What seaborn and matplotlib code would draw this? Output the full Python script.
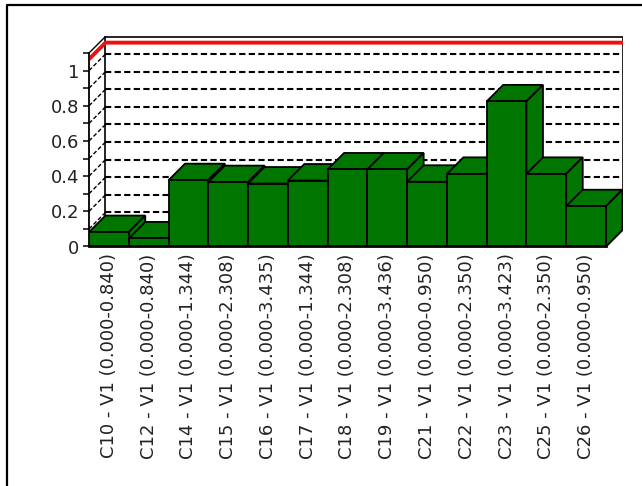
import matplotlib
matplotlib.use("Agg")
import matplotlib.pyplot as plt
from matplotlib.patches import Polygon, Rectangle
from matplotlib.lines import Line2D
import seaborn as sns

# ---- data ----
categories = [
    "C10 - V1 (0.000-0.840)",
    "C12 - V1 (0.000-0.840)",
    "C14 - V1 (0.000-1.344)",
    "C15 - V1 (0.000-2.308)",
    "C16 - V1 (0.000-3.435)",
    "C17 - V1 (0.000-1.344)",
    "C18 - V1 (0.000-2.308)",
    "C19 - V1 (0.000-3.436)",
    "C21 - V1 (0.000-0.950)",
    "C22 - V1 (0.000-2.350)",
    "C23 - V1 (0.000-3.423)",
    "C25 - V1 (0.000-2.350)",
    "C26 - V1 (0.000-0.950)",
]
values = [0.082, 0.046, 0.377, 0.366, 0.358, 0.375, 0.438,
          0.438, 0.368, 0.413, 0.825, 0.413, 0.229]
ytick_values = [0, 0.2, 0.4, 0.6, 0.8, 1.0]
ytick_labels = ["0", "0.2", "0.4", "0.6", "0.8", "1"]
grid_values = [0.1, 0.2, 0.3, 0.4, 0.5, 0.6, 0.7, 0.8, 0.9, 1.0]
minor_tick_values = [0.1, 0.3, 0.5, 0.7, 0.9, 1.1]
limit_value = 1.065
y_top = 1.1

# ---- style ----
sns.set_theme(style="white")
plt.rcParams["font.family"] = ["DejaVu Sans"]

BAR_GREEN = "#007600"
EDGE = "black"

W, H, DPI = 642, 486, 100
fig = plt.figure(figsize=(W / DPI, H / DPI), dpi=DPI)
fig.patch.set_facecolor("white")

# axes box in pixels (front-left corner of the chart to back-right corner)
left_px, right_px, top_px, bottom_px = 89, 622.5, 36.5, 246.5
depth_x_px, depth_y_px = 16.5, 16.5
ax = fig.add_axes([left_px / W, 1 - bottom_px / H,
                   (right_px - left_px) / W, (bottom_px - top_px) / H])
ax.patch.set_visible(False)

n = len(categories)
px_per_x = (right_px - left_px - depth_x_px) / n
px_per_y = (bottom_px - top_px - depth_y_px) / y_top
DX = depth_x_px / px_per_x
DY = depth_y_px / px_per_y

# front faces of the bars
sns.barplot(x=categories, y=values, color=BAR_GREEN, saturation=1,
            width=1.0, edgecolor=EDGE, linewidth=1.3, ax=ax)

x_lo, x_hi = -0.5, n - 0.5

# back wall
ax.add_patch(Rectangle((x_lo + DX, DY), n, y_top, facecolor="white",
                       edgecolor=EDGE, linewidth=1.2, zorder=0.5))

# dashed grid on back wall and side wall
for v in grid_values:
    ax.plot([x_lo + DX, x_hi + DX], [v + DY, v + DY], color="black",
            linestyle=(0, (3, 1.6)), linewidth=1.5, zorder=1)
    ax.plot([x_lo, x_lo + DX], [v, v + DY], color="black",
            linestyle=(0, (3, 1.6)), linewidth=1.0, zorder=1)

# side wall top edge and floor edge
ax.plot([x_lo, x_lo + DX], [y_top, y_top + DY], color="black", lw=1.0, zorder=1)
ax.plot([x_hi, x_hi + DX], [0, DY], color="black", lw=1.2, zorder=1)

# limit line
ax.plot([x_lo, x_lo + DX, x_hi + DX + 0.07],
        [limit_value, limit_value + DY, limit_value + DY],
        color="#ee1111", linewidth=2.8, zorder=2,
        solid_joinstyle="miter", solid_capstyle="butt")

# top and side faces for the 3-D look
bars = [p for p in ax.patches if p.get_zorder() != 0.5]
for i, p in enumerate(bars):
    x0, w, h = p.get_x(), p.get_width(), p.get_height()
    p.set_zorder(10 + 2 * i + 1)
    top = Polygon([(x0, h), (x0 + w, h), (x0 + w + DX, h + DY), (x0 + DX, h + DY)],
                  closed=True, facecolor=BAR_GREEN, edgecolor=EDGE,
                  linewidth=1.3, zorder=10 + 2 * i)
    side = Polygon([(x0 + w, 0), (x0 + w + DX, DY), (x0 + w + DX, h + DY), (x0 + w, h)],
                   closed=True, facecolor=BAR_GREEN, edgecolor=EDGE,
                   linewidth=1.3, zorder=10 + 2 * i)
    ax.add_patch(top)
    ax.add_patch(side)

ax.set_xlim(x_lo, x_hi + DX)
ax.set_ylim(0, y_top + DY)

# axes, ticks and labels
for s in ("top", "right"):
    ax.spines[s].set_visible(False)
ax.spines["left"].set_bounds(0, y_top)
ax.spines["left"].set_linewidth(1.3)
ax.spines["left"].set_color("black")
ax.spines["bottom"].set_bounds(x_lo, x_hi)
ax.spines["bottom"].set_linewidth(2.0)
ax.spines["bottom"].set_color("black")

ax.set_yticks(ytick_values, ytick_labels)
ax.set_yticks(minor_tick_values, minor=True)
ax.tick_params(axis="y", which="both", left=True, direction="out", length=4,
               width=1.1, color="black", pad=3, labelsize=13,
               labelcolor="#222222")
ax.tick_params(axis="x", which="both", bottom=False, length=0, pad=5,
               labelsize=13, labelcolor="#222222", labelrotation=90)
ax.set_xlabel("")
ax.set_ylabel("")
ax.grid(False)

# outer frame
fig.add_artist(Line2D([7 / W, 7 / W, 1.0], [0.0, 1 - 5 / H, 1 - 5 / H],
                      transform=fig.transFigure, color="black", linewidth=1.6))

fig.savefig("out.png", dpi=DPI)
